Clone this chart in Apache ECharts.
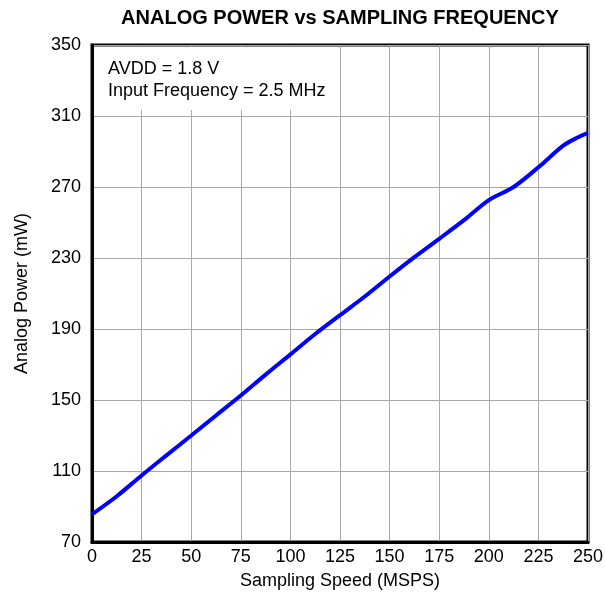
<!DOCTYPE html>
<html>
<head>
<meta charset="utf-8">
<script src="https://cdn.jsdelivr.net/npm/echarts@6/dist/echarts.min.js"></script>
<style>html,body{margin:0;padding:0;background:#fff;}#c{width:605px;height:595px;}</style>
</head>
<body>
<div id="c"></div>
<script>
const titleText = 'ANALOG POWER vs SAMPLING FREQUENCY';
const xName = 'Sampling Speed (MSPS)';
const yName = 'Analog Power (mW)';
const noteLines = ['AVDD = 1.8 V', 'Input Frequency = 2.5 MHz'];
const samplingSpeed = [0, 12.5, 25, 37.5, 50, 62.5, 75, 87.5, 100, 112.5, 125, 137.5, 150, 162.5, 175, 187.5, 200, 212.5, 225, 237.5, 245, 250];
const analogPower = [85.6, 95.8, 107.5, 118.8, 130, 141.3, 152.5, 164.3, 175.7, 187.2, 197.8, 208.3, 219.6, 230.5, 240.8, 251.3, 262.6, 270, 281.1, 293.3, 298, 300.5];
const xTicks = {min: 0, max: 250, interval: 25};
const yTicks = {min: 70, max: 350, interval: 40};

const FONT = 'Liberation Sans, Arial, Helvetica, sans-serif';
const chart = echarts.init(document.getElementById('c'), null, {renderer: 'canvas'});
chart.setOption({
  animation: false,
  backgroundColor: '#fff',
  grid: {left: 92, right: 17, top: 45, bottom: 53, show: true, borderColor: '#000', borderWidth: 3, containLabel: false, outerBoundsMode: 'none'},
  xAxis: {
    type: 'value', min: xTicks.min, max: xTicks.max, interval: xTicks.interval,
    name: xName, nameLocation: 'middle', nameGap: 30,
    nameTextStyle: {color: '#000', fontSize: 18, fontFamily: FONT},
    axisLine: {show: true, lineStyle: {color: '#000', width: 3}},
    axisTick: {show: false},
    axisLabel: {color: '#000', fontSize: 18, fontFamily: FONT, margin: 6},
    splitLine: {show: true, lineStyle: {color: '#a8a8a8', width: 1}}
  },
  yAxis: {
    type: 'value', min: yTicks.min, max: yTicks.max, interval: yTicks.interval,
    name: yName, nameLocation: 'middle', nameGap: 61, nameRotate: 90,
    nameTextStyle: {color: '#000', fontSize: 18, fontFamily: FONT},
    axisLine: {show: true, lineStyle: {color: '#000', width: 3}},
    axisTick: {show: false},
    axisLabel: {color: '#000', fontSize: 18, fontFamily: FONT, margin: 11},
    splitLine: {show: true, lineStyle: {color: '#a8a8a8', width: 1}}
  },
  graphic: [
    {type: 'text', z: 100, style: {text: titleText, x: 340, y: 18, textAlign: 'center', textVerticalAlign: 'middle', fill: '#000', font: 'bold 20px ' + FONT}},
    {type: 'rect', z: 1, shape: {x: 95, y: 47, width: 227, height: 63}, style: {fill: '#fff'}},
    {type: 'text', z: 101, style: {text: noteLines[0], x: 108, y: 69, textVerticalAlign: 'middle', fill: '#000', font: '18px ' + FONT}},
    {type: 'text', z: 101, style: {text: noteLines[1], x: 108, y: 91, textVerticalAlign: 'middle', fill: '#000', font: '18px ' + FONT}}
  ],
  series: [{
    type: 'line',
    data: samplingSpeed.map((x, i) => [x, analogPower[i]]),
    showSymbol: false,
    smooth: 0.3,
    lineStyle: {color: '#0000ff', width: 4},
    z: 5
  }]
});
</script>
</body>
</html>
